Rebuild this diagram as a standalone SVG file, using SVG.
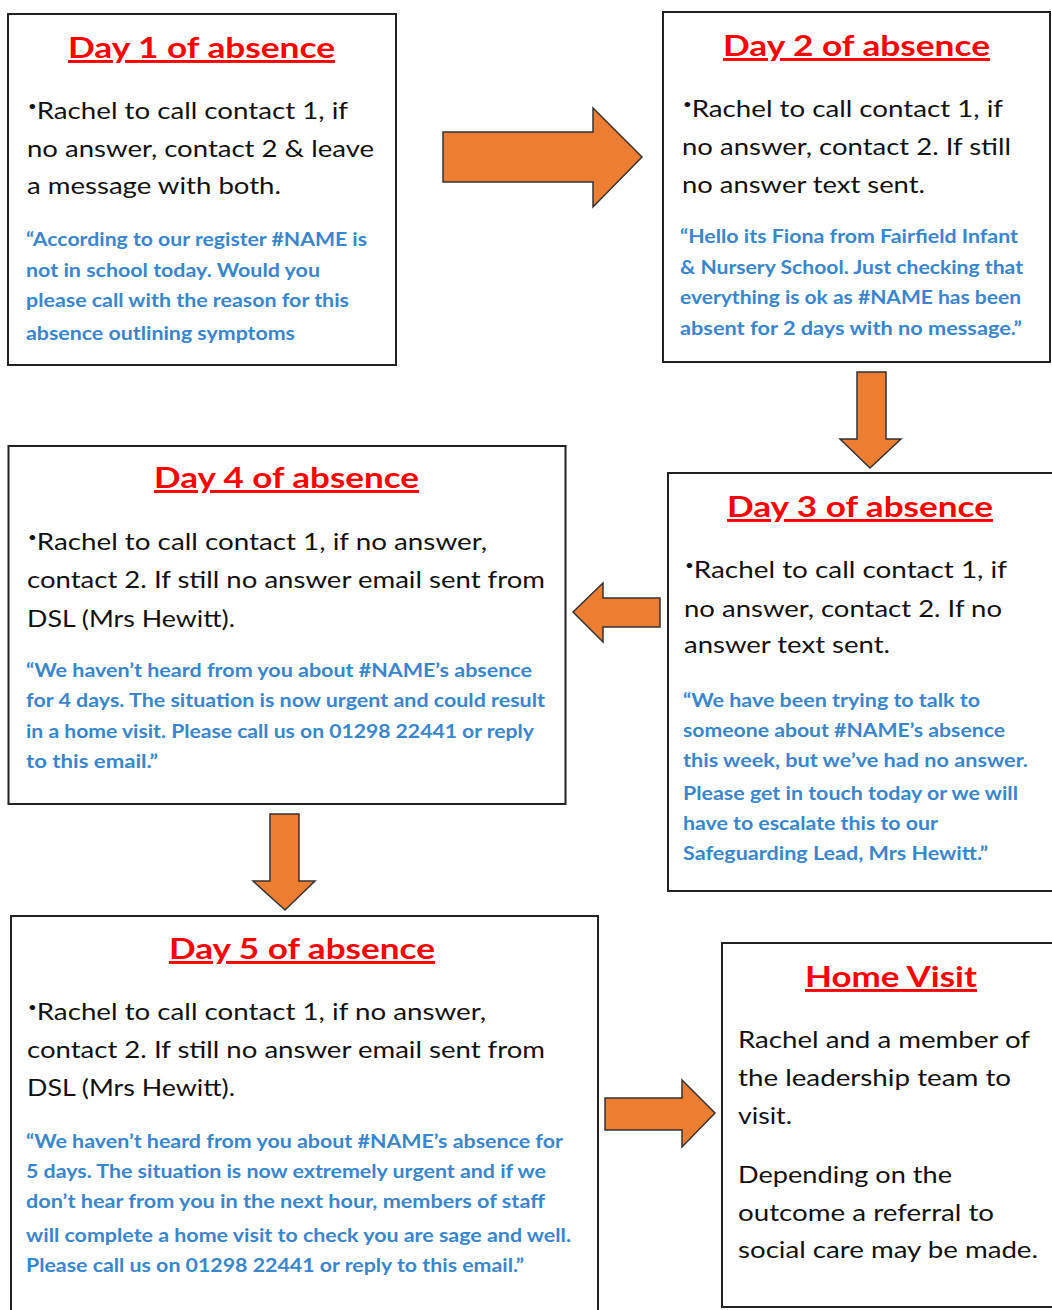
<svg xmlns="http://www.w3.org/2000/svg" width="1052" height="1310" viewBox="0 0 1052 1310">
<style>
.box{fill:#fff;stroke:#222;stroke-width:2}
.arrow{fill:#ED7D31;stroke:#333;stroke-width:1.5;stroke-linejoin:miter}
text{font-family:Lato,"Open Sans","Liberation Sans",sans-serif}
.t{font-size:29px;font-weight:bold;fill:#FF0000;text-decoration:underline}
.b{font-size:24px;fill:#111}
.q{font-size:18px;font-weight:bold;fill:#3A86CC}
.bul{font-size:13px}
</style>
<rect width="1052" height="1310" fill="#fff"/>
<g id="connectors">
<path class="arrow" d="M443,132 H593 V108 L642,157 L593,207 V182 H443 Z"/>
<path class="arrow" d="M857,372 H886 V439 H901 L870,468 L840,439 H857 Z"/>
<path class="arrow" d="M660,598 V627 H603 V642 L573,612 L603,583 V598 Z"/>
<path class="arrow" d="M270,814 H299 V881 H315 L285,910 L253,881 H270 Z"/>
<path class="arrow" d="M605,1098 H682 V1080 L715,1113 L682,1147 V1130 H605 Z"/>
</g>
<g id="day1">
<rect class="box" x="8" y="14" width="388" height="351"/>
<text class="t" x="68" y="58" textLength="267" lengthAdjust="spacingAndGlyphs">Day 1 of absence</text>
<text class="b" x="28" y="119" textLength="320" lengthAdjust="spacingAndGlyphs"><tspan class="bul" dy="-8">•</tspan><tspan dy="8">Rachel to call contact 1, if</tspan></text>
<text class="b" x="27" y="157" textLength="347" lengthAdjust="spacingAndGlyphs">no answer, contact 2 &amp; leave</text>
<text class="b" x="27" y="194" textLength="254" lengthAdjust="spacingAndGlyphs">a message with both.</text>
<text class="q" x="26" y="246" textLength="341" lengthAdjust="spacingAndGlyphs">“According to our register #NAME is</text>
<text class="q" x="26" y="277" textLength="294" lengthAdjust="spacingAndGlyphs">not in school today. Would you</text>
<text class="q" x="26" y="307" textLength="323" lengthAdjust="spacingAndGlyphs">please call with the reason for this</text>
<text class="q" x="26" y="340" textLength="269" lengthAdjust="spacingAndGlyphs">absence outlining symptoms</text>
</g>
<g id="day2">
<rect class="box" x="663" y="12" width="387" height="350"/>
<text class="t" x="723" y="56" textLength="267" lengthAdjust="spacingAndGlyphs">Day 2 of absence</text>
<text class="b" x="683" y="117" textLength="320" lengthAdjust="spacingAndGlyphs"><tspan class="bul" dy="-8">•</tspan><tspan dy="8">Rachel to call contact 1, if</tspan></text>
<text class="b" x="682" y="155" textLength="329" lengthAdjust="spacingAndGlyphs">no answer, contact 2. If still</text>
<text class="b" x="682" y="193" textLength="243" lengthAdjust="spacingAndGlyphs">no answer text sent.</text>
<text class="q" x="680" y="243" textLength="338" lengthAdjust="spacingAndGlyphs">“Hello its Fiona from Fairfield Infant</text>
<text class="q" x="680" y="274" textLength="343" lengthAdjust="spacingAndGlyphs">&amp; Nursery School. Just checking that</text>
<text class="q" x="680" y="304" textLength="341" lengthAdjust="spacingAndGlyphs">everything is ok as #NAME has been</text>
<text class="q" x="680" y="335" textLength="342" lengthAdjust="spacingAndGlyphs">absent for 2 days with no message.”</text>
</g>
<g id="day3">
<rect class="box" x="668" y="473" width="390" height="418"/>
<text class="t" x="727" y="517" textLength="266" lengthAdjust="spacingAndGlyphs">Day 3 of absence</text>
<text class="b" x="685" y="578" textLength="322" lengthAdjust="spacingAndGlyphs"><tspan class="bul" dy="-8">•</tspan><tspan dy="8">Rachel to call contact 1, if</tspan></text>
<text class="b" x="684" y="617" textLength="318" lengthAdjust="spacingAndGlyphs">no answer, contact 2. If no</text>
<text class="b" x="684" y="653" textLength="206" lengthAdjust="spacingAndGlyphs">answer text sent.</text>
<text class="q" x="683" y="707" textLength="297" lengthAdjust="spacingAndGlyphs">“We have been trying to talk to</text>
<text class="q" x="683" y="737" textLength="322" lengthAdjust="spacingAndGlyphs">someone about #NAME’s absence</text>
<text class="q" x="683" y="767" textLength="345" lengthAdjust="spacingAndGlyphs">this week, but we’ve had no answer.</text>
<text class="q" x="683" y="800" textLength="335" lengthAdjust="spacingAndGlyphs">Please get in touch today or we will</text>
<text class="q" x="683" y="830" textLength="255" lengthAdjust="spacingAndGlyphs">have to escalate this to our</text>
<text class="q" x="683" y="860" textLength="305" lengthAdjust="spacingAndGlyphs">Safeguarding Lead, Mrs Hewitt.”</text>
</g>
<g id="day4">
<rect class="box" x="8.5" y="446" width="557" height="358"/>
<text class="t" x="154" y="488" textLength="265" lengthAdjust="spacingAndGlyphs">Day 4 of absence</text>
<text class="b" x="28" y="550" textLength="459" lengthAdjust="spacingAndGlyphs"><tspan class="bul" dy="-8">•</tspan><tspan dy="8">Rachel to call contact 1, if no answer,</tspan></text>
<text class="b" x="27" y="588" textLength="518" lengthAdjust="spacingAndGlyphs">contact 2. If still no answer email sent from</text>
<text class="b" x="27" y="627" textLength="208" lengthAdjust="spacingAndGlyphs">DSL (Mrs Hewitt).</text>
<text class="q" x="26" y="677" textLength="506" lengthAdjust="spacingAndGlyphs">“We haven’t heard from you about #NAME’s absence</text>
<text class="q" x="26" y="707" textLength="519" lengthAdjust="spacingAndGlyphs">for 4 days. The situation is now urgent and could result</text>
<text class="q" x="26" y="738" textLength="508" lengthAdjust="spacingAndGlyphs">in a home visit. Please call us on 01298 22441 or reply</text>
<text class="q" x="26" y="768" textLength="132" lengthAdjust="spacingAndGlyphs">to this email.”</text>
</g>
<g id="day5">
<rect class="box" x="11" y="916" width="587" height="410"/>
<text class="t" x="169" y="959" textLength="266" lengthAdjust="spacingAndGlyphs">Day 5 of absence</text>
<text class="b" x="28" y="1020" textLength="458" lengthAdjust="spacingAndGlyphs"><tspan class="bul" dy="-8">•</tspan><tspan dy="8">Rachel to call contact 1, if no answer,</tspan></text>
<text class="b" x="27" y="1058" textLength="518" lengthAdjust="spacingAndGlyphs">contact 2. If still no answer email sent from</text>
<text class="b" x="27" y="1096" textLength="208" lengthAdjust="spacingAndGlyphs">DSL (Mrs Hewitt).</text>
<text class="q" x="26" y="1148" textLength="537" lengthAdjust="spacingAndGlyphs">“We haven’t heard from you about #NAME’s absence for</text>
<text class="q" x="26" y="1178" textLength="520" lengthAdjust="spacingAndGlyphs">5 days. The situation is now extremely urgent and if we</text>
<text class="q" x="26" y="1208" textLength="519" lengthAdjust="spacingAndGlyphs">don’t hear from you in the next hour, members of staff</text>
<text class="q" x="26" y="1242" textLength="545" lengthAdjust="spacingAndGlyphs">will complete a home visit to check you are sage and well.</text>
<text class="q" x="26" y="1272" textLength="498" lengthAdjust="spacingAndGlyphs">Please call us on 01298 22441 or reply to this email.”</text>
</g>
<g id="homevisit">
<rect class="box" x="722" y="943" width="336" height="364"/>
<text class="t" x="805" y="987" textLength="172" lengthAdjust="spacingAndGlyphs">Home Visit</text>
<text class="b" x="738" y="1048" textLength="292" lengthAdjust="spacingAndGlyphs">Rachel and a member of</text>
<text class="b" x="738" y="1086" textLength="273" lengthAdjust="spacingAndGlyphs">the leadership team to</text>
<text class="b" x="738" y="1124" textLength="54" lengthAdjust="spacingAndGlyphs">visit.</text>
<text class="b" x="738" y="1183" textLength="214" lengthAdjust="spacingAndGlyphs">Depending on the</text>
<text class="b" x="738" y="1221" textLength="256" lengthAdjust="spacingAndGlyphs">outcome a referral to</text>
<text class="b" x="738" y="1258" textLength="300" lengthAdjust="spacingAndGlyphs">social care may be made.</text>
</g>
</svg>
